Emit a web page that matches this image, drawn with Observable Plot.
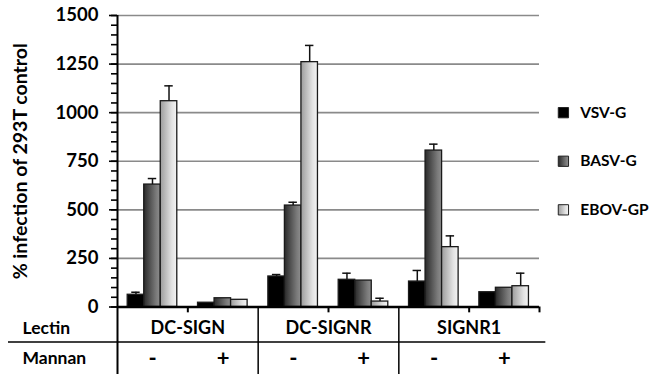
<!DOCTYPE html>
<html><head><meta charset="utf-8">
<script src="https://cdn.jsdelivr.net/npm/d3@7"></script>
<script src="https://cdn.jsdelivr.net/npm/@observablehq/plot@0.6"></script>
<style>
body{margin:0;background:#fff;}
#wrap{position:relative;width:652px;height:374px;}
</style></head><body>
<svg width="0" height="0" style="position:absolute">
<defs>
<linearGradient id="gBasv" x1="0" x2="1" y1="0" y2="0">
<stop offset="0" stop-color="#2a2a2a"/><stop offset="0.75" stop-color="#7a7a7a"/><stop offset="1" stop-color="#8e8e8e"/>
</linearGradient>
<linearGradient id="gEbov" x1="0" x2="1" y1="0" y2="0">
<stop offset="0" stop-color="#9c9c9c"/><stop offset="0.7" stop-color="#e2e2e2"/><stop offset="1" stop-color="#f4f4f4"/>
</linearGradient>
</defs></svg>
<div id="wrap"></div>
<script>
const lectins = ["DC-SIGN", "DC-SIGNR", "SIGNR1"];
const mannan = ["-", "+"];
const series = ["VSV-G", "BASV-G", "EBOV-GP"];
const vsv = [63, 22, 157, 140, 131, 76];
const vsvErr = [13, 0, 10, 34, 57, 0];
const basv = [630, 45, 522, 136, 805, 99];
const basvErr = [31, 0, 17, 0, 33, 0];
const ebov = [1059, 37, 1260, 28, 308, 107];
const ebovErr = [79, 0, 86, 17, 58, 67];
const yTicks = [0, 250, 500, 750, 1000, 1250, 1500];

const vals = [vsv, basv, ebov];
const errs = [vsvErr, basvErr, ebovErr];
const rows = [];
for (let g = 0; g < 6; g++) for (let s = 0; s < 3; s++)
  rows.push({g, s, series: series[s], value: vals[s][g], err: errs[s][g]});
const groups = d3.range(6).map(g => ({g, lectin: lectins[Math.floor(g / 2)], mannan: mannan[g % 2]}));

const pad = 0.145, bw = 0.235;
const cx = d => d.g + pad + (d.s + 0.5) * bw;
const withErr = rows.filter(d => d.err > 0);
const legendY = [1000, 750, 500];

const chart = Plot.plot({
  width: 652, height: 374,
  marginLeft: 117, marginRight: 113, marginTop: 15, marginBottom: 67.5,
  style: {fontFamily: "Lato, 'Open Sans', sans-serif", fontSize: "16px", background: "#fff", color: "#000"},
  x: {type: "linear", domain: [0, 6], axis: null},
  y: {domain: [0, 1500], axis: null},
  color: {type: "ordinal", domain: series, range: ["#000", "url(#gBasv)", "url(#gEbov)"]},
  marks: [
    Plot.ruleY(yTicks.filter(v => v > 0), {stroke: "#8a8a8a", strokeWidth: 1.6}),
    Plot.axisY({ticks: d3.range(0, 1501, 50), tickSize: 6, tickFormat: () => "", label: null, strokeWidth: 1.6}),
    Plot.axisY({ticks: yTicks, tickSize: 8, tickPadding: 11, tickFormat: "d", label: null, fontSize: 18.5, fontWeight: "bold", strokeWidth: 1.6}),
    Plot.text(["% infection of 293T control"], {frameAnchor: "left", dx: -97, rotate: -90, textAnchor: "middle", lineAnchor: "middle", fontSize: 19.5, fontWeight: "bold"}),
    Plot.rectY(rows, {x1: d => d.g + pad + d.s * bw, x2: d => d.g + pad + (d.s + 1) * bw, y: "value", fill: "series", stroke: "#1a1a1a", strokeWidth: 1.3}),
    Plot.ruleX(withErr, {x: cx, y1: "value", y2: d => d.value + d.err, stroke: "#111", strokeWidth: 1.5}),
    Plot.ruleY(withErr, {x1: d => cx(d) - 0.06, x2: d => cx(d) + 0.06, y: d => d.value + d.err, stroke: "#111", strokeWidth: 1.5}),
    Plot.ruleY([0], {stroke: "#000", strokeWidth: 2.6}),
    Plot.ruleX([0], {y1: -350, y2: 1500, stroke: "#000", strokeWidth: 2}),
    Plot.ruleX([2, 4], {y1: 0, y2: -350, stroke: "#000", strokeWidth: 1.5}),
    Plot.ruleX([1, 3, 5, 6], {y1: 0, y2: -30, stroke: "#000", strokeWidth: 2}),
    Plot.ruleY([-180], {x1: -1.55, x2: 6.09, stroke: "#000", strokeWidth: 1.5}),
    Plot.text(["Lectin", "Mannan"], {x: -1.35, y: [-110, -265], textAnchor: "start", fontSize: 17.5, fontWeight: "bold"}),
    Plot.text(lectins, {x: (d, i) => 2 * i + 1, y: -110, fontSize: 18, fontWeight: "bold"}),
    Plot.text(groups, {x: d => d.g + 0.5, y: -265, text: "mannan", fontSize: 22, fontWeight: "bold"}),
    Plot.dot(series, {x: 6.34, y: (d, i) => legendY[i], symbol: "square", r: 5.8, fill: d => d, stroke: "#222", strokeWidth: 1}),
    Plot.text(series, {x: 6.58, y: (d, i) => legendY[i], textAnchor: "start", fontSize: 15.5, fontWeight: "bold"})
  ]
});
document.getElementById("wrap").appendChild(chart);
</script>
</body></html>
